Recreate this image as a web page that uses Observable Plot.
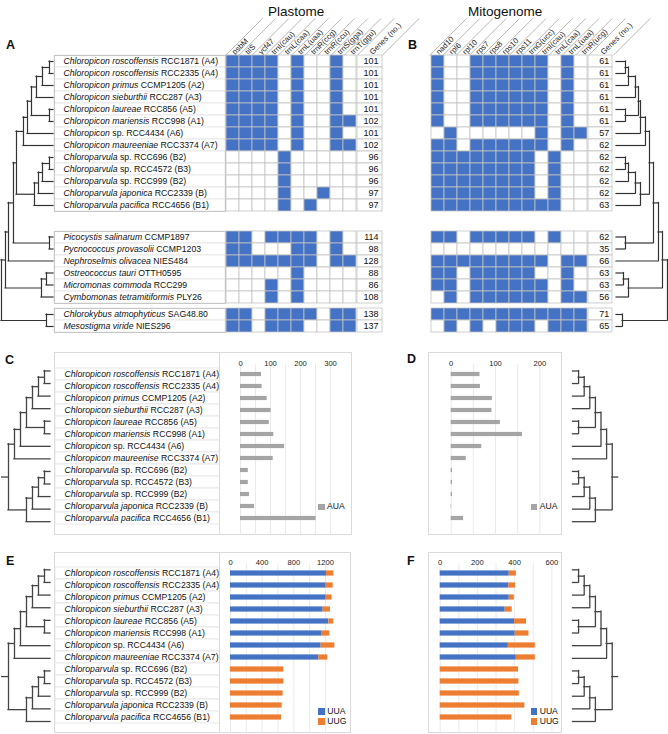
<!DOCTYPE html>
<html><head><meta charset="utf-8">
<script src="https://cdn.jsdelivr.net/npm/d3@7"></script>
<script src="https://cdn.jsdelivr.net/npm/@observablehq/plot@0.6"></script>
<style>
body{margin:0;background:#fff;}
#root{position:relative;width:668px;height:734px;overflow:hidden;font-family:"Liberation Sans",Arial,sans-serif;color:#111;}
#root svg{overflow:visible;display:block;}
.lbl{position:absolute;white-space:nowrap;}
</style></head><body><div id="root"></div>
<script>
// ---------------- DATA ----------------
const taxa = ["Chloropicon roscoffensis","Chloropicon roscoffensis","Chloropicon primus","Chloropicon sieburthii","Chloropicon laureae","Chloropicon mariensis","Chloropicon","Chloropicon maureeniae","Chloroparvula","Chloroparvula","Chloroparvula","Chloroparvula japonica","Chloroparvula pacifica","Picocystis salinarum","Pycnococcus provasolii","Nephroselmis olivacea","Ostreococcus tauri","Micromonas commoda","Cymbomonas tetramitiformis","Chlorokybus atmophyticus","Mesostigma viride"];
const strains = ["RCC1871 (A4)","RCC2335 (A4)","CCMP1205 (A2)","RCC287 (A3)","RCC856 (A5)","RCC998 (A1)","sp. RCC4434 (A6)","RCC3374 (A7)","sp. RCC696 (B2)","sp. RCC4572 (B3)","sp. RCC999 (B2)","RCC2339 (B)","RCC4656 (B1)","CCMP1897","CCMP1203","NIES484","OTTH0595","RCC299","PLY26","SAG48.80","NIES296"];
const taxaC = ["Chloropicon roscoffensis","Chloropicon roscoffensis","Chloropicon primus","Chloropicon sieburthii","Chloropicon laureae","Chloropicon mariensis","Chloropicon","Chloropicon maureenise","Chloroparvula","Chloroparvula","Chloroparvula","Chloroparvula japonica","Chloroparvula pacifica"];
const taxaE = taxa.slice(0, 13);
const groupSizes = [13, 6, 2];

const plastomeGenes = ["psbM","tilS","ycf47","trnI(cau)","trnL(caa)","trnL(uaa)","trnR(ccg)","trnR(ccu)","trnS(gga)","trnT(ggu)"];
const plastome = [
 [1,1,1,1,0,1,0,0,1,0],[1,1,1,1,0,1,0,0,1,0],[1,1,1,1,0,1,0,0,1,0],[1,1,1,1,0,1,0,0,1,0],
 [1,1,1,1,0,1,0,0,1,0],[1,1,1,1,0,1,0,0,1,1],[1,1,1,1,0,1,0,0,1,0],[1,1,1,1,0,1,0,0,1,1],
 [0,0,0,0,1,0,0,0,0,0],[0,0,0,0,1,0,0,0,0,0],[0,0,0,0,1,0,0,0,0,0],[0,0,0,0,1,0,0,1,0,0],[0,0,0,0,1,0,1,0,0,0],
 [1,1,0,1,1,1,1,0,1,0],[1,1,0,0,0,1,1,0,1,0],[1,1,1,1,1,1,1,0,1,1],
 [0,0,0,0,0,1,0,0,0,0],[0,0,0,1,0,1,0,0,0,0],[0,0,0,1,0,1,0,0,0,0],
 [1,1,0,1,1,1,1,0,1,1],[1,1,0,1,1,1,0,0,1,1]];
const plastomeCounts = [101,101,101,101,101,102,101,102,96,96,96,97,97,114,98,128,88,86,108,138,137];

const mitoGenes = ["nad10","rpl6","rpl10","rps7","rps8","rps10","rps11","trnG(ucc)","trnI(cau)","trnL(caa)","trnL(uaa)","trnR(ucg)"];
const mito = [
 [1,0,0,1,1,1,1,1,1,0,1,0],[1,0,0,1,1,1,1,1,1,0,1,0],[1,0,0,1,1,1,1,1,1,0,1,0],[1,0,0,1,1,1,1,1,1,0,1,0],
 [1,0,0,1,1,1,1,1,1,0,1,0],[1,0,0,1,1,1,1,1,1,0,1,0],[0,1,0,0,0,0,0,0,1,0,1,1],[1,1,0,1,1,1,1,1,1,0,1,0],
 [1,1,1,1,1,1,1,1,0,1,0,0],[1,1,1,1,1,1,1,1,0,1,0,0],[1,1,1,1,1,1,1,1,0,1,0,0],[1,1,1,1,1,1,1,1,0,1,0,0],[1,1,1,1,1,1,1,1,1,1,0,0],
 [1,1,0,1,1,1,1,1,0,1,0,0],[0,0,0,0,0,0,0,0,0,0,0,0],[1,1,1,1,1,1,1,1,1,0,1,1],
 [1,1,0,1,1,1,1,1,0,0,1,0],[1,1,0,1,1,1,1,1,1,0,1,0],[0,1,0,1,1,1,1,1,1,0,1,1],
 [1,1,1,1,1,1,1,1,1,1,1,1],[0,1,0,1,0,1,1,1,0,1,1,1]];
const mitoCounts = [61,61,61,61,61,61,57,62,62,62,62,62,63,62,35,66,63,63,56,71,65];

const auaPlastome = [70,72,89,102,96,111,147,109,26,26,30,47,252];
const auaMito = [65,66,93,92,111,161,69,34,3,3,3,1,28];
const uuaPlastome = [1212,1200,1200,1170,1242,1158,1145,1116,0,0,0,0,0];
const uugPlastome = [93,97,84,93,63,96,173,113,674,674,665,653,644];
const uuaMito = [371,369,371,349,400,403,366,409,0,0,0,0,0];
const uugMito = [38,36,27,38,64,74,145,102,421,423,425,455,385];

const ticksC = [0,100,200,300], gridC = [0,50,100,150,200,250,300];
const ticksD = [0,100,200], gridD = [0,50,100,150,200];
const ticksE = [0,400,800,1200], gridE = [0,200,400,600,800,1000,1200];
const ticksF = [0,200,400,600], gridF = [0,100,200,300,400,500,600];

// trees: [nodeDepth, ...children]; leaves = row index
const treeA = [1,[5,[8,[13,[16,[23,[27,[31,[36,[42,[49,0,1],2],3],[49,4,5]],6],7],[34,[38,[42,[49,8,9],10],11],12]],[49,13,14]],15],[41,[46,16,17],18]],[46,19,20]];
const treeB = [1,[6,[10,[15,[19,[23,[28,[30,[33,[40,[43,0,1],2],3],[43,4,5]],6],7],[28,[33,[40,[43,8,9],10],11],12]],[43,13,14]],15],[40,[45,16,17],18]],[46,19,20]];
const treeCF = [7,[6,[5,[4,[3,[2,[1,0,1],2],3],[1,4,5]],6],7],[4,[3,[2,[1,8,9],10],11],12]];

// ---------------- LAYOUT ----------------
const W = 668, H = 734;
const BLUE = "#4472C4", ORANGE = "#ED7D31", GRAY = "#A5A5A5", LINE = "#c3c3c3";
const FONT = '"Liberation Sans", Arial, sans-serif';
const baseStyle = {background: "none", maxWidth: "none", overflow: "visible", fontFamily: FONT};
const root = document.getElementById("root");
const NS = "http://www.w3.org/2000/svg";
const LABEL_FS = 8.7;

function mount(el, left, top, w, h, extra) {
  const d = document.createElement("div");
  Object.assign(d.style, {position: "absolute", left: left + "px", top: top + "px", width: w + "px", height: h + "px"}, extra || {});
  d.appendChild(el); root.appendChild(d); return d;
}
function box(left, top, w, h, color) {
  const d = document.createElement("div");
  Object.assign(d.style, {position: "absolute", left: left + "px", top: top + "px", width: w + "px", height: h + "px", border: "1px solid " + color, boxSizing: "border-box", background: "#fff"});
  root.appendChild(d);
}
function text(str, left, top, style) {
  const d = document.createElement("div"); d.className = "lbl"; d.textContent = str;
  Object.assign(d.style, {left: left + "px", top: top + "px"}, style || {});
  root.appendChild(d); return d;
}
function italicize(svg, rows, names, rest) {
  svg.querySelectorAll('g[aria-label="text"] text').forEach((t, k) => {
    const i = rows[k];
    t.textContent = "";
    const ts = document.createElementNS(NS, "tspan");
    ts.setAttribute("font-style", "italic");
    ts.textContent = names[i];
    t.appendChild(ts);
    t.appendChild(document.createTextNode(" " + rest[i]));
  });
  return svg;
}
function labelPlot(rows, names, rest, width, rH, mt, mb, frame) {
  const svg = Plot.plot({
    width, height: mt + rows.length * rH + mb, marginTop: mt, marginBottom: mb, marginLeft: 0, marginRight: 0,
    x: {domain: ["l"], padding: 0, axis: null},
    y: {type: "band", domain: rows, padding: 0, axis: null},
    style: baseStyle,
    marks: [
      Plot.cell(rows, {x: () => "l", y: d => d, fill: "#fff", stroke: "#e3e3e3", strokeWidth: 0.8}),
      frame ? Plot.frame({stroke: LINE, strokeWidth: 0.9}) : null,
      Plot.text(rows, {y: d => d, frameAnchor: "left", dx: 9, text: d => names[d] + " " + rest[d], fontSize: LABEL_FS, fill: "#111"})
    ]
  });
  return italicize(svg, rows, names, rest);
}
function heatPlot(rows, genes, matrix, cellW, rH) {
  const data = rows.flatMap(r => genes.map((g, j) => ({r, g, v: matrix[r][j]})));
  return Plot.plot({
    width: genes.length * cellW, height: rows.length * rH, margin: 0,
    x: {domain: genes, padding: 0, axis: null},
    y: {type: "band", domain: rows, padding: 0, axis: null},
    style: baseStyle,
    marks: [Plot.cell(data, {x: "g", y: "r", fill: d => d.v ? BLUE : "#fff", stroke: LINE, strokeWidth: 0.8, inset: 0})]
  });
}
function countPlot(rows, counts, w, rH) {
  return Plot.plot({
    width: w, height: rows.length * rH, margin: 0,
    x: {domain: ["n"], padding: 0, axis: null},
    y: {type: "band", domain: rows, padding: 0, axis: null},
    style: baseStyle,
    marks: [
      Plot.cell(rows, {x: () => "n", y: d => d, fill: "#fff", stroke: LINE, strokeWidth: 0.8}),
      Plot.text(rows, {y: d => d, frameAnchor: "right", dx: -4, text: d => String(counts[d]), fontSize: 9, fill: "#111"})
    ]
  });
}
function headerPlot(genes, cellW, countW, hH) {
  const n = genes.length;
  const cols = genes.concat(["Genes (no.)"]);
  const bounds = d3.range(n + 1).concat([n + countW / cellW]);
  const centers = cols.map((c, i) => i < n ? i + 0.5 : n + countW / cellW / 2);
  const totalW = n * cellW + countW + hH + 4;
  return Plot.plot({
    width: totalW, height: hH, margin: 0,
    x: {domain: [0, totalW / cellW], range: [0, totalW], axis: null},
    y: {domain: [0, hH], range: [hH, 0], axis: null},
    style: baseStyle,
    marks: [
      Plot.link(bounds, {x1: d => d, y1: () => 0, x2: d => d + hH / cellW, y2: () => hH, stroke: "#9a9a9a", strokeWidth: 0.7}),
      Plot.text(cols, {x: (d, i) => centers[i], y: () => 0, text: d => d, rotate: -45, textAnchor: "start", dx: 1.2, dy: -2.2, fontSize: 7.8, fill: "#222"})
    ]
  });
}
function treePlot(tree, leafY, xDomain, xRange, leafDepth, stemDepth, stroke, sw) {
  const v = [], hz = [];
  function walk(node) {
    if (typeof node === "number") return {x: leafDepth, y: leafY(node)};
    const [d, ...kids] = node;
    const ks = kids.map(walk);
    const ys = ks.map(k => k.y);
    const y1 = Math.min(...ys), y2 = Math.max(...ys);
    v.push({x: d, y1, y2});
    ks.forEach(k => hz.push({y: k.y, x1: d, x2: k.x}));
    return {x: d, y: (y1 + y2) / 2};
  }
  const r = walk(tree);
  if (stemDepth != null) hz.push({y: r.y, x1: stemDepth, x2: r.x});
  return Plot.plot({
    width: W, height: H, margin: 0,
    x: {domain: xDomain, range: xRange, axis: null},
    y: {domain: [0, H], range: [0, H], axis: null},
    style: baseStyle,
    marks: [
      Plot.ruleX(v, {x: "x", y1: "y1", y2: "y2", stroke, strokeWidth: sw, strokeLinecap: "square"}),
      Plot.ruleY(hz, {y: "y", x1: "x1", x2: "x2", stroke, strokeWidth: sw, strokeLinecap: "square"})
    ]
  });
}
function barPlot(o) {
  const rows = d3.range(o.n);
  return Plot.plot({
    width: o.w, height: o.h, marginTop: o.mt, marginBottom: 0, marginLeft: o.ml, marginRight: o.mr,
    x: {domain: o.domain, axis: null},
    y: {type: "band", domain: rows, range: [o.mt, o.mt + o.n * o.rH], padding: 0, axis: null},
    color: o.color,
    style: baseStyle,
    marks: [
      Plot.ruleX(o.grid, {x: d => d, stroke: "#e4e4e4", strokeWidth: 0.8}),
      Plot.text(o.ticks, {x: d => d, frameAnchor: "top", dy: -4.6, text: d => String(d), fontSize: 7.6, fill: "#222"}),
      Plot.barX(o.data, {x: "v", y: "row", fill: o.fill, insetTop: o.inset, insetBottom: o.inset})
    ]
  });
}
function legend(items, left, top) {
  items.forEach(([label, color], k) => {
    const s = document.createElement("div");
    Object.assign(s.style, {position: "absolute", left: left + "px", top: (top + k * 9.8 + 1) + "px", width: "6.5px", height: "6.5px", background: color});
    root.appendChild(s);
    text(label, left + 9, top + k * 9.8 - 1.6, {fontSize: "8.6px"});
  });
}

// ---------------- PANELS A & B ----------------
const rowH = 12;
const groups = []; { let s = 0; groupSizes.forEach(n => { groups.push(d3.range(s, s + n)); s += n; }); }
const groupTops = [55, 230.5, 308];
const plCellW = 13.17, plLeft = 225, plCountW = 25;
const miCellW = 13.25, miLeft = 429.3, miCountW = 24.7;
const hdrH = 37;

mount(headerPlot(plastomeGenes, plCellW, plCountW, hdrH), plLeft, 55 - hdrH, 200, hdrH);
mount(headerPlot(mitoGenes, miCellW, miCountW, hdrH), miLeft, 55 - hdrH, 230, hdrH);

groups.forEach((rows, g) => {
  const top = groupTops[g], hgt = rows.length * rowH;
  mount(labelPlot(rows, taxa, strains, plLeft - 54, rowH, 0, 0, true), 54, top, plLeft - 54, hgt);
  mount(heatPlot(rows, plastomeGenes, plastome, plCellW, rowH), plLeft, top, plastomeGenes.length * plCellW, hgt);
  mount(countPlot(rows, plastomeCounts, plCountW, rowH), plLeft + plastomeGenes.length * plCellW, top, plCountW, hgt);
  mount(heatPlot(rows, mitoGenes, mito, miCellW, rowH), miLeft, top, mitoGenes.length * miCellW, hgt);
  mount(countPlot(rows, mitoCounts, miCountW, rowH), miLeft + mitoGenes.length * miCellW, top, miCountW, hgt);
});
function leafYA(i) {
  const g = groups.findIndex(r => r.includes(i));
  return groupTops[g] + (i - groups[g][0] + 0.5) * rowH;
}
mount(treePlot(treeA, leafYA, [0, 55], [0, 55], 53, null, "#333", 1.2), 0, 0, W, H, {pointerEvents: "none"});
mount(treePlot(treeB, leafYA, [0, 55], [668, 613], 52, null, "#333", 1.2), 0, 0, W, H, {pointerEvents: "none"});

// ---------------- PANELS C–F ----------------
const cTop = 352, cH = 183, cMt = 12.2, cRH = 12.56;
const eTop = 551.7, eH = 181, eMt = 11.3, eRH = 12.64;
const rows13 = d3.range(13);

box(54, cTop, 166, cH, "#dadada");
mount(labelPlot(rows13, taxaC, strains, 165, cRH, cMt, cH - cMt - 13 * cRH, false), 54.5, cTop, 165, cH);
box(219, cTop, 133, cH, "#dadada");
mount(barPlot({w: 133, h: cH, mt: cMt, n: 13, rH: cRH, ml: 21, mr: 22, domain: [0, 300], ticks: ticksC, grid: gridC,
  data: rows13.map(i => ({row: i, v: auaPlastome[i]})), fill: GRAY, inset: 3.9}), 219, cTop, 133, cH);
box(428, cTop, 134, cH, "#dadada");
mount(barPlot({w: 134, h: cH, mt: cMt, n: 13, rH: cRH, ml: 22.7, mr: 22.7, domain: [0, 200], ticks: ticksD, grid: gridD,
  data: rows13.map(i => ({row: i, v: auaMito[i]})), fill: GRAY, inset: 3.9}), 428, cTop, 134, cH);
legend([["AUA", GRAY]], 318, 502.7);
legend([["AUA", GRAY]], 530.7, 502.7);

box(54, eTop, 166, eH, "#dadada");
mount(labelPlot(rows13, taxaE, strains, 165, eRH, eMt, eH - eMt - 13 * eRH, false), 54.5, eTop, 165, eH);
const codonColor = {domain: ["UUA", "UUG"], range: [BLUE, ORANGE]};
const eData = rows13.flatMap(i => [{row: i, codon: "UUA", v: uuaPlastome[i]}, {row: i, codon: "UUG", v: uugPlastome[i]}]);
const fData = rows13.flatMap(i => [{row: i, codon: "UUA", v: uuaMito[i]}, {row: i, codon: "UUG", v: uugMito[i]}]);
box(219, eTop, 132, eH, "#dadada");
mount(barPlot({w: 132, h: eH, mt: eMt, n: 13, rH: eRH, ml: 11, mr: 26, domain: [0, 1200], ticks: ticksE, grid: gridE,
  data: eData, fill: "codon", color: codonColor, inset: 3.4}), 219, eTop, 132, eH);
box(428.3, eTop, 133.4, eH, "#dadada");
mount(barPlot({w: 133.4, h: eH, mt: eMt, n: 13, rH: eRH, ml: 11.7, mr: 10, domain: [0, 600], ticks: ticksF, grid: gridF,
  data: fData, fill: "codon", color: codonColor, inset: 3.4}), 428.3, eTop, 133.4, eH);
legend([["UUA", BLUE], ["UUG", ORANGE]], 318.3, 707.3);
legend([["UUA", BLUE], ["UUG", ORANGE]], 530.7, 707.3);

const leafYC = i => cTop + cMt + (i + 0.5) * cRH;
const leafYE = i => eTop + eMt + (i + 0.5) * eRH;
mount(treePlot(treeCF, leafYC, [0, 8.05], [50, 1.7], 0, 8.05, "#444", 1.3), 0, 0, W, H, {pointerEvents: "none"});
mount(treePlot(treeCF, leafYC, [0, 8.05], [572.5, 617.6], 0, 8.05, "#444", 1.3), 0, 0, W, H, {pointerEvents: "none"});
mount(treePlot(treeCF, leafYE, [0, 8.05], [50, 1.7], 0, 8.05, "#444", 1.3), 0, 0, W, H, {pointerEvents: "none"});
mount(treePlot(treeCF, leafYE, [0, 8.05], [572.5, 617.6], 0, 8.05, "#444", 1.3), 0, 0, W, H, {pointerEvents: "none"});

// ---------------- TITLES & LETTERS ----------------
text("Plastome", 268, 4, {fontSize: "13.5px"});
text("Mitogenome", 468, 4, {fontSize: "13.5px"});
const letter = {fontSize: "12.5px", fontWeight: "bold"};
text("A", 6, 38, letter); text("B", 408, 38, letter);
text("C", 5, 353, letter); text("D", 407, 352, letter);
text("E", 6, 554, letter); text("F", 407, 554, letter);
</script></body></html>
